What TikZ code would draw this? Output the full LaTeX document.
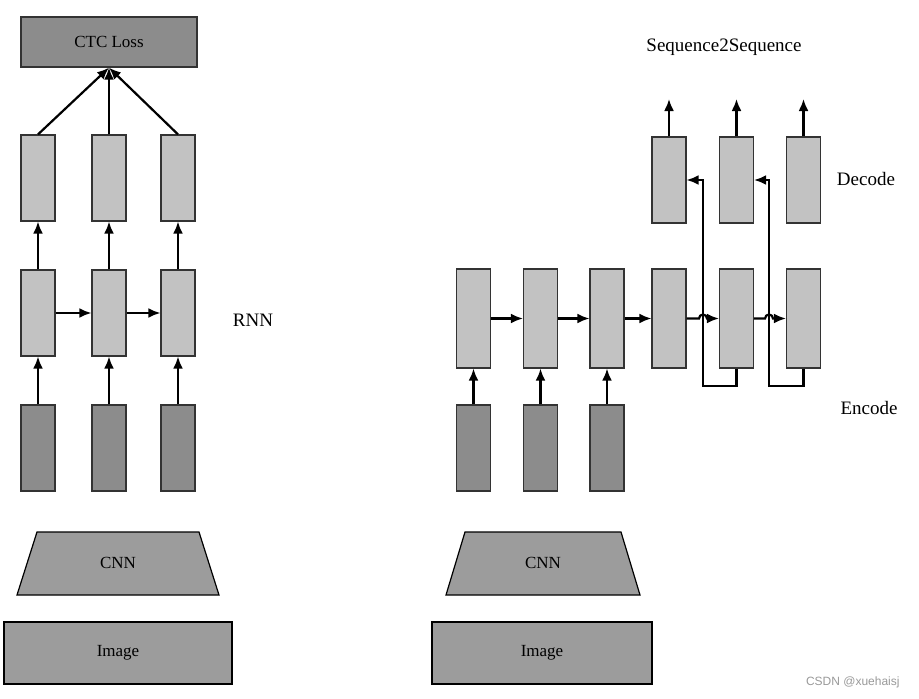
\documentclass[tikz,border=0pt]{standalone}
\usepackage{fontspec}
\setmainfont{Liberation Serif}
\newfontfamily\wmfont{Liberation Sans}
\usepackage{tikz}
\usetikzlibrary{calc,arrows.meta}

\definecolor{boxlight}{gray}{0.76}
\definecolor{boxdark}{gray}{0.55}
\definecolor{boxmid}{gray}{0.61}

\tikzset{
  cell/.style={draw=black!80, fill=boxlight, line width=1.2pt, minimum width=34pt, minimum height=86pt, inner sep=0pt},
  feat/.style={cell, fill=boxdark},
  enc/.style={cell, minimum height=99pt},
  boxtxt/.style={font=\fontsize{17}{17}\selectfont},
  lbl/.style={font=\fontsize{19}{19}\selectfont},
}

\begin{document}
\begin{tikzpicture}[x=1pt,y=-1pt,>={Latex[length=12pt,width=10pt]},line width=2.2pt]
\useasboundingbox (0,0) rectangle (919,699);

% left: CTC
\node[draw=black!80, fill=boxdark, line width=1.2pt, minimum width=176pt, minimum height=50pt, boxtxt] (ctc) at (109,42) {CTC Loss};

\foreach \i/\x in {1/38,2/109,3/178} {
    \node[cell] (top\i) at (\x,178) {};
    \node[cell] (rnn\i) at (\x,313) {};
    \node[feat] (fl\i) at (\x,448) {};
    \draw[->] (fl\i) -- (rnn\i);
    \draw[->] (rnn\i) -- (top\i);
    \draw[->] (top\i.north) -- (ctc.south);
}
\draw[->] (rnn1) -- (rnn2);
\draw[->] (rnn2) -- (rnn3);

\node[lbl] (rnnlbl) at (253,320) {RNN};

\draw[fill=boxmid, line width=1.2pt] (17,595) -- (37,532) -- (199,532) -- (219,595) -- cycle;
\node[boxtxt] (cnnl) at (118,563) {CNN};
\draw[fill=boxmid, line width=1.2pt] (4,622) rectangle (232,684);
\node[boxtxt] (imgl) at (118,653) {Image};

% right: seq2seq
\foreach \i/\x in {1/473.5,2/540.5,3/607} {
    \node[enc] (e\i) at (\x,318.5) {};
    \node[feat] (f\i) at (\x,448) {};
    \draw[->] (f\i) -- (e\i);
}
\foreach \i/\x in {4/669,5/736.5,6/803.5} {
    \node[enc] (e\i) at (\x,318.5) {};
    \node[cell] (d\i) at (\x,180) {};
    \coordinate (o\i) at (\x,99);
    \draw[->] (d\i) -- (o\i);
}
\draw[->] (e1) -- (e2);
\draw[->] (e2) -- (e3);
\draw[->] (e3) -- (e4);

\coordinate (h1) at (703,318.5);
\coordinate (h2) at (769,318.5);
\draw[->] (e4.east) -- ($(h1)-(4,0)$) arc[start angle=180,end angle=360,radius=4] -- (e5.west);
\draw[->] (e5.east) -- ($(h2)-(4,0)$) arc[start angle=180,end angle=360,radius=4] -- (e6.west);

\coordinate (fb1) at (703,386);
\coordinate (fb2) at (769,386);
\draw[->] (e5.south) |- (fb1) |- (d4.east);
\draw[->] (e6.south) |- (fb2) |- (d5.east);

\node[lbl] (seqlbl) at (724,47) {Sequence2Sequence};
\node[lbl] (declbl) at (866,179) {Decode};
\node[lbl] (enclbl) at (869,408) {Encode};

\draw[fill=boxmid, line width=1.2pt] (446,595) -- (465,532) -- (621,532) -- (640,595) -- cycle;
\node[boxtxt] (cnnr) at (543,563) {CNN};
\draw[fill=boxmid, line width=1.2pt] (432,622) rectangle (652,684);
\node[boxtxt] (imgr) at (542,653) {Image};

\node[font=\wmfont\fontsize{12}{12}\selectfont, text=gray!80, anchor=east] (wm) at (904,682) {CSDN @xuehaisj};
\end{tikzpicture}
\end{document}
